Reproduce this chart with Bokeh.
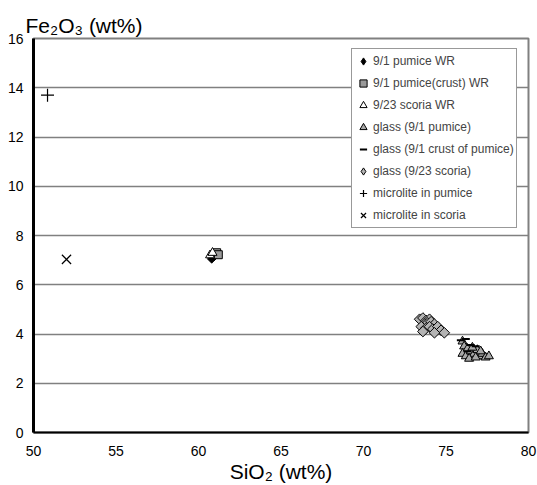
import numpy as np
from bokeh.plotting import figure
from bokeh.models import Range1d, Legend, LegendItem, FixedTicker, ColumnDataSource
from bokeh.embed import file_html
from bokeh.resources import INLINE

# ---------------- data ----------------
x_ticks = [50, 55, 60, 65, 70, 75, 80]
y_ticks = [0, 2, 4, 6, 8, 10, 12, 14, 16]

pumice_wr_x = [60.8, 60.95]
pumice_wr_y = [7.05, 7.15]

crust_wr_x = [61.1, 61.2]
crust_wr_y = [7.3, 7.22]

scoria_wr_x = [60.7, 60.85]
scoria_wr_y = [7.2, 7.3]

glass_pumice_x = [76.0, 76.1, 76.3, 76.0, 76.2, 76.5, 76.7, 76.9, 77.0, 77.2, 77.4, 77.6, 76.4, 76.8, 77.1, 76.6]
glass_pumice_y = [3.7, 3.5, 3.4, 3.2, 3.1, 3.3, 3.2, 3.35, 3.1, 3.2, 3.05, 3.1, 3.0, 3.05, 3.3, 3.45]

glass_crust_x = [75.9, 76.2, 76.5, 76.3, 76.8]
glass_crust_y = [3.75, 3.8, 3.55, 3.3, 3.5]

glass_scoria_x = [73.4, 73.6, 73.8, 74.0, 73.7, 73.9, 74.1, 74.3, 73.5, 73.8, 74.0, 74.2, 74.5, 74.7, 74.9, 73.6, 74.3]
glass_scoria_y = [4.6, 4.65, 4.55, 4.6, 4.4, 4.45, 4.5, 4.4, 4.3, 4.25, 4.3, 4.2, 4.3, 4.15, 4.05, 4.1, 4.05]

micro_pumice_x = [50.85]
micro_pumice_y = [13.7]

micro_scoria_x = [52.0]
micro_scoria_y = [7.03]

labels = ["9/1 pumice WR", "9/1 pumice(crust) WR", "9/23 scoria WR", "glass (9/1 pumice)",
          "glass (9/1 crust of pumice)", "glass (9/23 scoria)", "microlite in pumice",
          "microlite in scoria"]

# ---------------- figure ----------------
p = figure(width=537, height=485, output_backend="svg", toolbar_location=None,
           x_range=Range1d(50, 80), y_range=Range1d(0, 16),
           min_border_left=33, min_border_right=9, min_border_top=38, min_border_bottom=53)
p.background_fill_color = "white"
p.border_fill_color = "white"
p.outline_line_color = "#808080"
p.outline_line_width = 2
# range used only for legend swatches (keeps them out of the plotting area)
p.extra_y_ranges = {"swatch": Range1d(1000, 1001)}

p.title.text = "Fe₂O₃ (wt%)"
p.title.align = "left"
p.title.offset = -8
p.title.standoff = 3
p.title.text_font = "Liberation Sans"
p.title.text_font_size = "21px"
p.title.text_font_style = "normal"
p.title.text_color = "black"

p.xaxis.ticker = FixedTicker(ticks=x_ticks)
p.yaxis.ticker = FixedTicker(ticks=y_ticks)
for ax in (p.xaxis, p.yaxis):
    ax.axis_line_color = "black"
    ax.major_tick_out = 0
    ax.major_tick_in = 0
    ax.minor_tick_out = 0
    ax.minor_tick_in = 0
    ax.major_label_text_font = "Liberation Sans"
    ax.major_label_text_font_size = "14px"
    ax.major_label_text_color = "black"
p.xaxis.axis_line_width = 2
p.yaxis.axis_line_width = 3
p.xaxis.major_label_standoff = 13
p.yaxis.major_label_standoff = 10

p.xaxis.axis_label = "SiO₂ (wt%)"
p.xaxis.axis_label_text_font = "Liberation Sans"
p.xaxis.axis_label_text_font_size = "21px"
p.xaxis.axis_label_text_font_style = "normal"
p.xaxis.axis_label_text_color = "black"
p.xaxis.axis_label_standoff = 1

p.xgrid.grid_line_color = None
p.ygrid.grid_line_color = "#808080"
p.ygrid.grid_line_width = 1.5

BL = "black"
src_pwr = ColumnDataSource(dict(x=pumice_wr_x, y=pumice_wr_y))
src_gsc = ColumnDataSource(dict(x=glass_scoria_x, y=glass_scoria_y))

r1 = p.scatter("x", "y", source=src_pwr, marker="square", angle=np.pi / 4, size=6,
               fill_color=BL, line_color=BL)
r2 = p.scatter(crust_wr_x, crust_wr_y, marker="square", size=8,
               fill_color="#9a9a9a", line_color=BL)
r3 = p.scatter(scoria_wr_x, scoria_wr_y, marker="triangle", size=9,
               fill_color="white", line_color=BL)
r6 = p.scatter("x", "y", source=src_gsc, marker="square", angle=np.pi / 4, size=7.5,
               fill_color="#b4b4b4", line_color=BL)
r4 = p.scatter(glass_pumice_x, glass_pumice_y, marker="triangle", size=9,
               fill_color="#a8a8a8", line_color=BL)
r5 = p.scatter(glass_crust_x, glass_crust_y, marker="dash", size=8,
               line_color=BL, line_width=2)
r7 = p.scatter(micro_pumice_x, micro_pumice_y, marker="cross", size=13,
               line_color=BL, line_width=1.2)
r8 = p.scatter(micro_scoria_x, micro_scoria_y, marker="x", size=13,
               line_color=BL, line_width=1.2)

# legend swatches with diamond shape (mapped to an out-of-view range)
l1 = p.scatter("x", "y", source=src_pwr, y_range_name="swatch",
               marker="diamond", fill_color=BL, line_color=BL)
l6 = p.scatter("x", "y", source=src_gsc, y_range_name="swatch",
               marker="diamond", fill_color="#b4b4b4", line_color=BL)

legend = Legend(items=[LegendItem(label=labels[0], renderers=[l1]),
                       LegendItem(label=labels[1], renderers=[r2]),
                       LegendItem(label=labels[2], renderers=[r3]),
                       LegendItem(label=labels[3], renderers=[r4]),
                       LegendItem(label=labels[4], renderers=[r5]),
                       LegendItem(label=labels[5], renderers=[l6]),
                       LegendItem(label=labels[6], renderers=[r7]),
                       LegendItem(label=labels[7], renderers=[r8])],
                location=(318, 204))
legend.label_text_font = "Liberation Sans"
legend.label_text_font_size = "12px"
legend.glyph_width = 18
legend.glyph_height = 20
legend.label_height = 20
legend.spacing = 2
legend.padding = 2
legend.margin = 0
legend.label_standoff = 1
legend.border_line_color = "#333333"
legend.border_line_width = 1
legend.background_fill_color = "white"
legend.background_fill_alpha = 1.0
p.add_layout(legend)

open("out.html", "w").write(file_html(p, INLINE))
